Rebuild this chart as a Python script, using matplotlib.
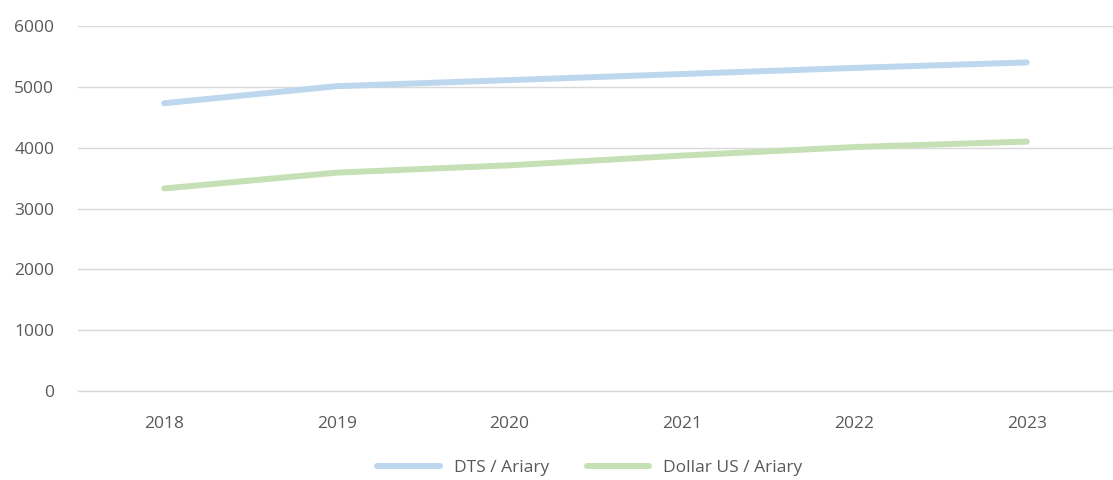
import matplotlib.pyplot as plt

years = ["2018", "2019", "2020", "2021", "2022", "2023"]
dts_ariary = [4730, 5010, 5110, 5210, 5310, 5400]
usd_ariary = [3330, 3590, 3710, 3870, 4010, 4100]

plt.rcParams['font.family'] = ['Open Sans', 'DejaVu Sans']
text_color = '#595959'

fig = plt.figure(figsize=(11.13, 4.8), dpi=100)
ax = fig.add_axes([0.07, 0.185, 0.93, 0.761])

x = range(len(years))
ax.plot(x, dts_ariary, color='#BDD7EE', lw=4.3, solid_capstyle='round', label='DTS / Ariary')
ax.plot(x, usd_ariary, color='#C5E0B4', lw=4.3, solid_capstyle='round', label='Dollar US / Ariary')

ax.set_xlim(-0.5, len(years) - 0.5)
ax.set_ylim(0, 6000)
ax.set_yticks(range(0, 6001, 1000))
ax.set_xticks(list(x))
ax.set_xticklabels(years)
ax.grid(axis='y', color='#D9D9D9', lw=1)
ax.axhline(0, color='#D9D9D9', lw=1, clip_on=False, zorder=0)
ax.set_axisbelow(True)
for s in ax.spines.values():
    s.set_visible(False)
ax.tick_params(length=0, labelsize=12.5, colors=text_color, pad=17)
ax.tick_params(axis='x', pad=18)

leg = fig.legend(loc='lower center', bbox_to_anchor=(0.53, -0.025), ncol=2, frameon=False,
                 fontsize=12.5, handlelength=3.6, columnspacing=2.2)
for t in leg.get_texts():
    t.set_color(text_color)

fig.savefig('out.png', dpi=100)
